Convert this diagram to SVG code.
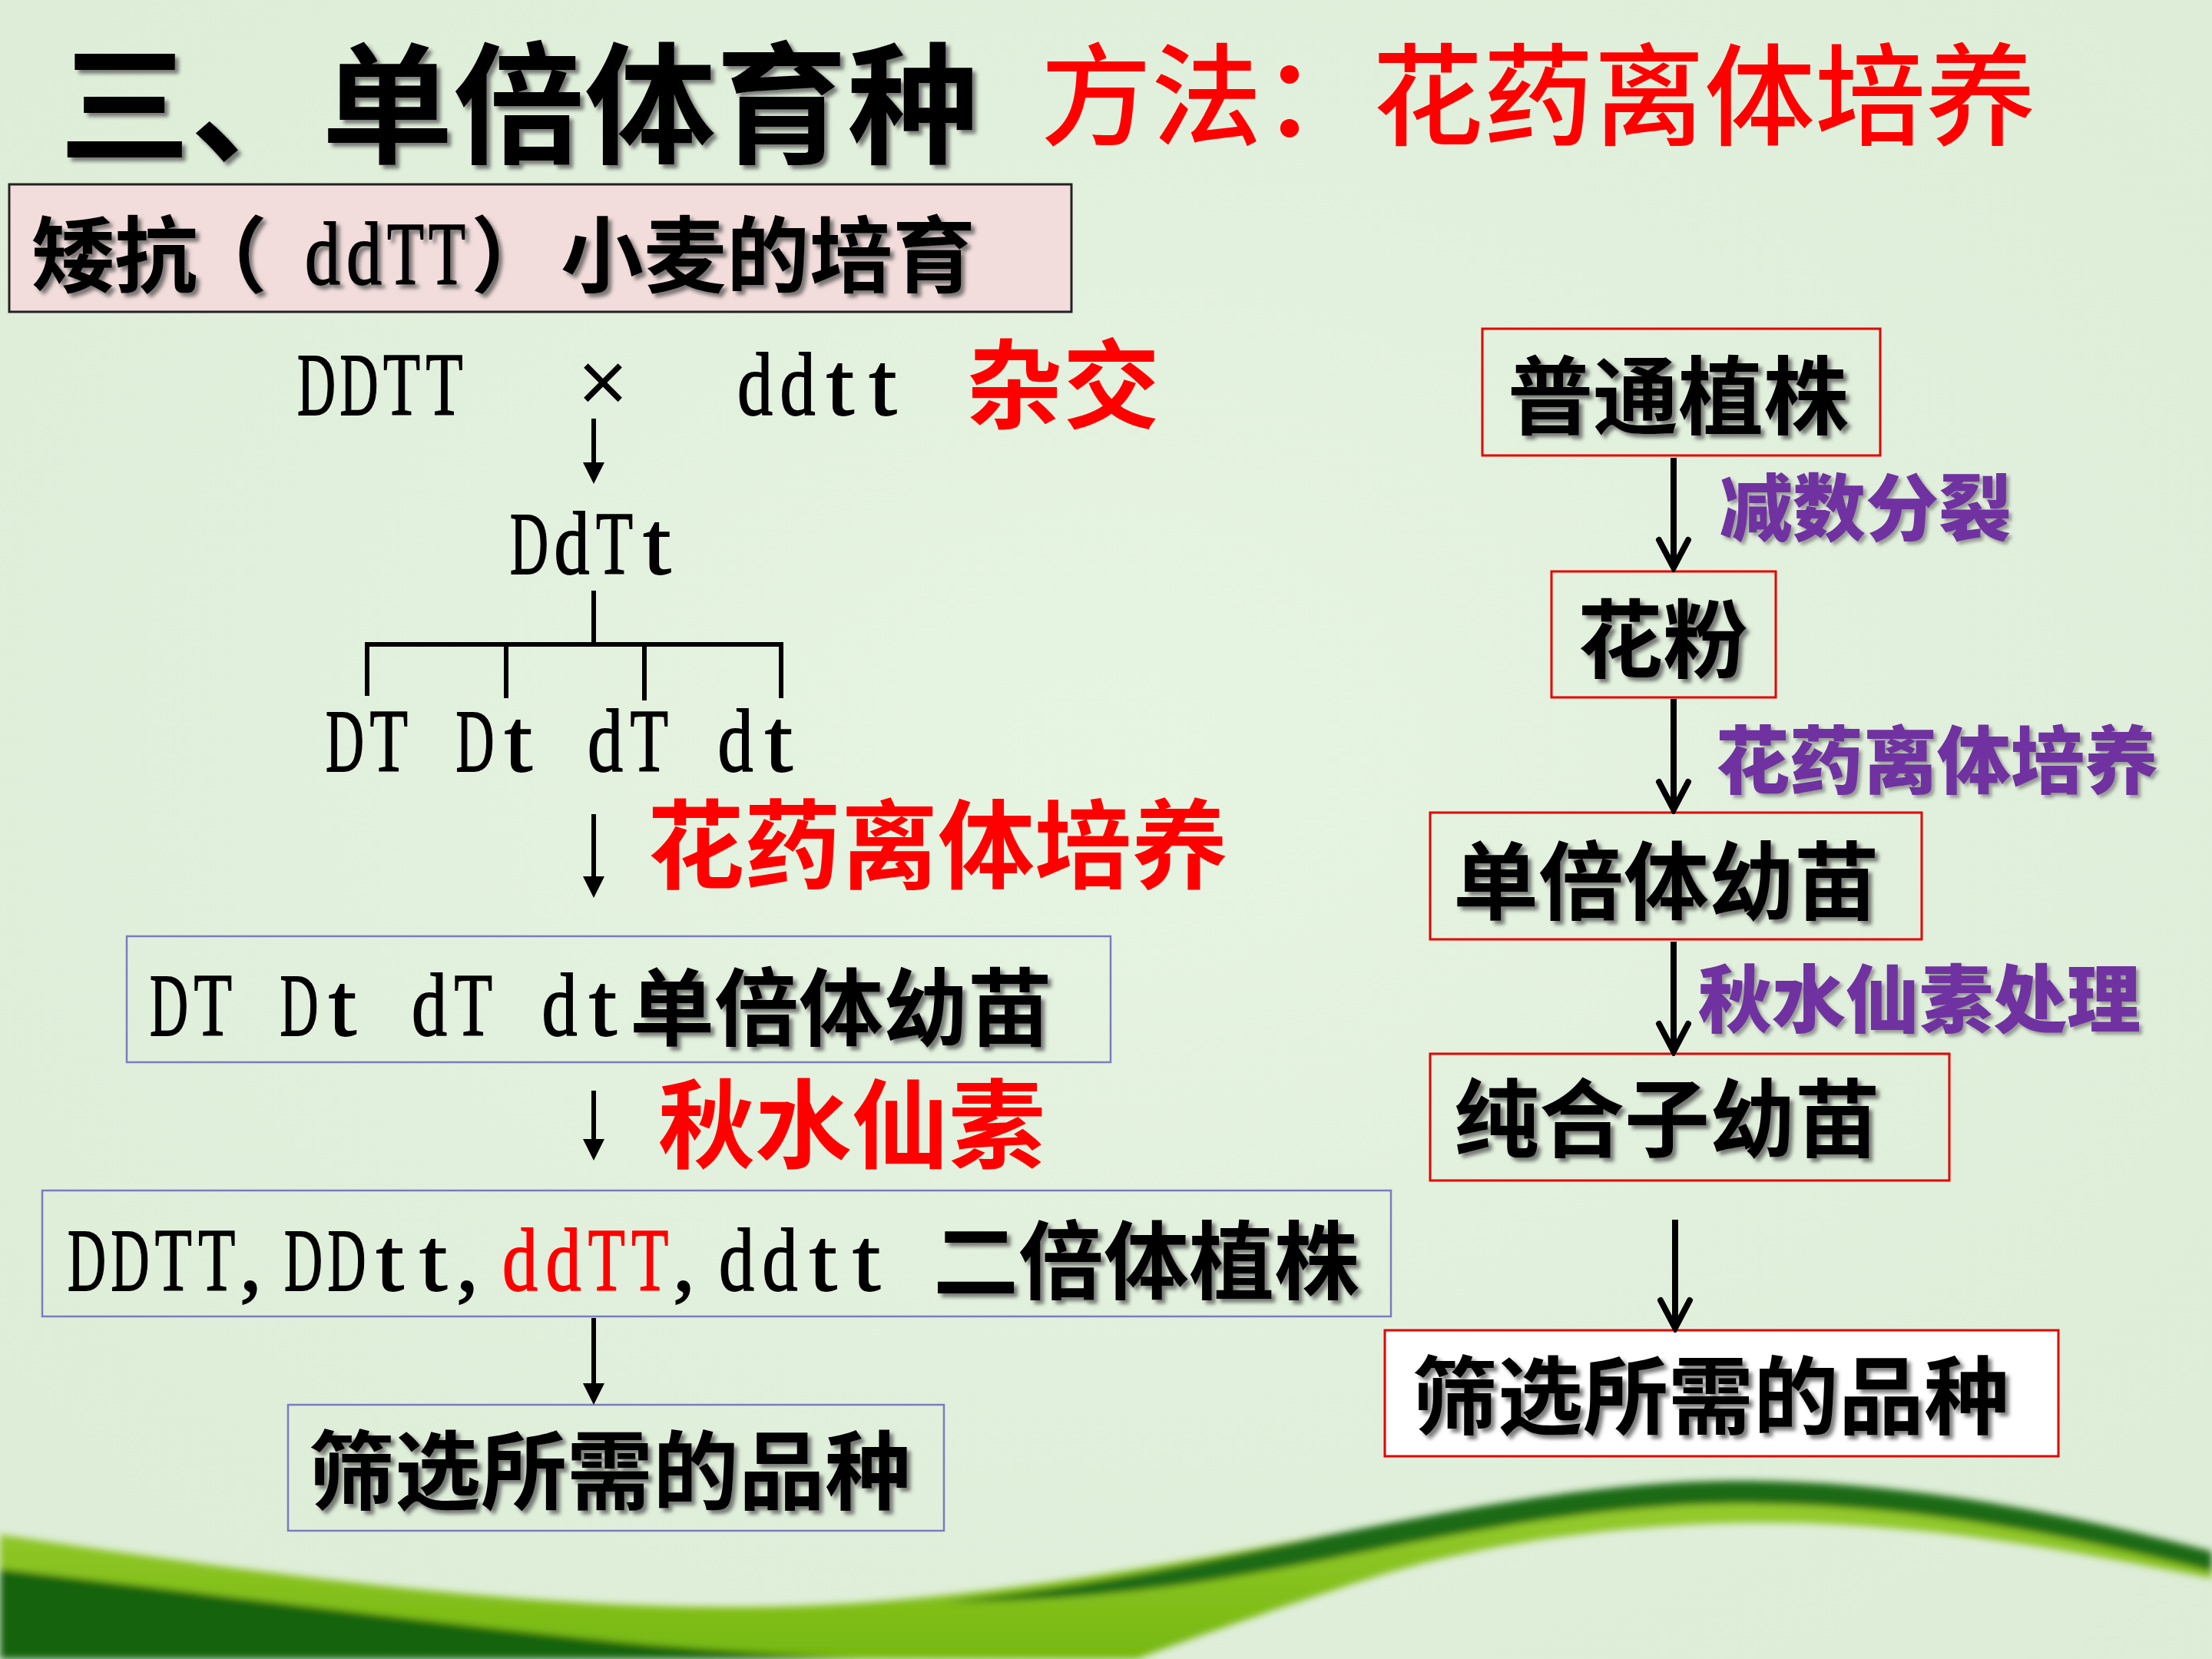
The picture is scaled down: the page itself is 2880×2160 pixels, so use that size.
<svg xmlns="http://www.w3.org/2000/svg" width="2880" height="2160" viewBox="0 0 2880 2160">
<defs>
<style>
.cjk{font-family:"Noto Sans CJK SC","Noto Sans CJK JP",sans-serif;}
.blk{fill:#000;font-weight:700;filter:url(#sh);}
.red{fill:#ff0000;font-weight:700;}
.pur{fill:#7030a0;font-weight:900;filter:url(#sh2);}
.lt{font-family:"Liberation Serif","Times New Roman",serif;font-size:116px;font-weight:400;fill:#000;stroke:#000;stroke-width:1.8;}
.rd{fill:#ff0000;stroke:#ff0000;}
.bx-blue{fill:none;stroke:#7b7bbf;stroke-width:2.5;}
.bx-red{fill:none;stroke:#e60000;stroke-width:3;}
.ln{stroke:#000;stroke-width:6;fill:none;}
.ln2{stroke:#000;stroke-width:8;fill:none;}
</style>
<filter id="sh" x="-5%" y="-20%" width="115%" height="150%">
<feDropShadow dx="5" dy="5" stdDeviation="2.5" flood-color="#555" flood-opacity="0.75"/>
</filter>
<filter id="sh2" x="-5%" y="-20%" width="115%" height="150%">
<feDropShadow dx="4" dy="4" stdDeviation="2" flood-color="#666" flood-opacity="0.6"/>
</filter>
<filter id="blur" x="-5%" y="-20%" width="110%" height="140%">
<feGaussianBlur stdDeviation="5"/>
</filter>
<radialGradient id="bg" cx="50%" cy="45%" r="75%">
<stop offset="0" stop-color="#e6f4e2"/>
<stop offset="1" stop-color="#dcecd6"/>
</radialGradient>
<linearGradient id="lime" x1="0" y1="0" x2="0" y2="1">
<stop offset="0" stop-color="#9acd32"/>
<stop offset="1" stop-color="#76b80f"/>
</linearGradient>
<marker id="tri" viewBox="0 0 28 28" refX="0" refY="14" markerWidth="28" markerHeight="28" markerUnits="userSpaceOnUse" orient="auto">
<path d="M0,0 L28,14 L0,28 Z" fill="#000"/>
</marker>
<marker id="vee" viewBox="-42 -24 48 48" refX="0" refY="0" markerWidth="48" markerHeight="48" markerUnits="userSpaceOnUse" orient="auto">
<path d="M-36,-19 L0,0 L-36,19" fill="none" stroke="#000" stroke-width="8" stroke-linecap="round" stroke-linejoin="miter"/>
</marker>
</defs>

<rect x="0" y="0" width="2880" height="2160" fill="url(#bg)"/>

<g id="swoosh" filter="url(#blur)">
<path d="M0,1998 C350,2050 700,2098 1000,2092 C1250,2088 1500,2040 1750,1995 C1950,1955 2100,1930 2250,1928 C2450,1926 2650,1960 2880,2020 L2880,2055 C2700,2020 2550,1990 2350,1983 C2150,1978 1950,2005 1800,2050 C1680,2088 1560,2130 1480,2160 L0,2160 Z" fill="url(#lime)"/>
<path d="M1230,2086 C1450,2062 1600,2025 1750,1995 C1950,1955 2100,1930 2250,1928 C2450,1926 2650,1960 2880,2020 L2880,2046 C2650,1988 2450,1956 2250,1958 C2100,1960 1950,1986 1750,2026 C1600,2056 1450,2084 1230,2086 Z" fill="#1b6b12"/>
<path d="M0,2043 C300,2078 600,2118 850,2142 C950,2150 1050,2156 1120,2160 L0,2160 Z" fill="#15640f"/>
</g>

<g id="title">
<text class="cjk blk" x="77" y="199" font-size="171" font-weight="900">三、单倍体育种</text>
<text class="cjk" x="1355" y="178" font-size="144" fill="#ff0000" font-weight="500">方法：花药离体培养</text>
</g>

<g id="node-heading">
<rect x="12" y="240" width="1383" height="166" fill="#f2dddc" stroke="#222" stroke-width="3"/>
<text class="cjk blk" y="372" font-size="108"><tspan x="41">矮抗</tspan><tspan x="240">（</tspan><tspan class="lt" y="370" x="397" textLength="46" lengthAdjust="spacingAndGlyphs">d</tspan><tspan class="lt" x="451" textLength="46" lengthAdjust="spacingAndGlyphs">d</tspan><tspan class="lt" x="504" textLength="48" lengthAdjust="spacingAndGlyphs">T</tspan><tspan class="lt" x="558" textLength="48" lengthAdjust="spacingAndGlyphs">T</tspan><tspan x="613" y="372">）</tspan><tspan x="730">小麦的培育</tspan></text>
</g>

<g id="node-cross">
<text class="lt" y="540"><tspan x="387" textLength="50" lengthAdjust="spacingAndGlyphs">D</tspan><tspan x="442.5" textLength="50" lengthAdjust="spacingAndGlyphs">D</tspan><tspan x="499" textLength="48" lengthAdjust="spacingAndGlyphs">T</tspan><tspan x="554.5" textLength="48" lengthAdjust="spacingAndGlyphs">T</tspan></text>
<text class="lt" x="785" y="537" text-anchor="middle" font-size="100" stroke-width="1">×</text>
<text class="lt" y="540"><tspan x="960" textLength="46" lengthAdjust="spacingAndGlyphs">d</tspan><tspan x="1015.5" textLength="46" lengthAdjust="spacingAndGlyphs">d</tspan><tspan x="1076" textLength="36" lengthAdjust="spacingAndGlyphs">t</tspan><tspan x="1131.5" textLength="36" lengthAdjust="spacingAndGlyphs">t</tspan></text>
<text class="cjk red" x="1258" y="548" font-size="126">杂交</text>
</g>

<g id="node-f1">
<text class="lt" y="747"><tspan x="664" textLength="50" lengthAdjust="spacingAndGlyphs">D</tspan><tspan x="721.5" textLength="46" lengthAdjust="spacingAndGlyphs">d</tspan><tspan x="776" textLength="48" lengthAdjust="spacingAndGlyphs">T</tspan><tspan x="837.5" textLength="36" lengthAdjust="spacingAndGlyphs">t</tspan></text>
</g>

<g id="node-gametes">
<text class="lt" y="1004"><tspan x="424" textLength="50" lengthAdjust="spacingAndGlyphs">D</tspan><tspan x="481.5" textLength="48" lengthAdjust="spacingAndGlyphs">T</tspan> <tspan x="593.5" textLength="50" lengthAdjust="spacingAndGlyphs">D</tspan><tspan x="657" textLength="36" lengthAdjust="spacingAndGlyphs">t</tspan> <tspan x="765" textLength="46" lengthAdjust="spacingAndGlyphs">d</tspan><tspan x="820.5" textLength="48" lengthAdjust="spacingAndGlyphs">T</tspan> <tspan x="934.5" textLength="46" lengthAdjust="spacingAndGlyphs">d</tspan><tspan x="996" textLength="36" lengthAdjust="spacingAndGlyphs">t</tspan></text>
</g>

<g id="label-culture-left">
<text class="cjk red" x="843" y="1147" font-size="126">花药离体培养</text>
</g>

<g id="node-haploid-left">
<rect class="bx-blue" x="165" y="1219" width="1281" height="164"/>
<text class="lt" y="1348"><tspan x="195" textLength="50" lengthAdjust="spacingAndGlyphs">D</tspan><tspan x="252.5" textLength="48" lengthAdjust="spacingAndGlyphs">T</tspan> <tspan x="364.5" textLength="50" lengthAdjust="spacingAndGlyphs">D</tspan><tspan x="428" textLength="36" lengthAdjust="spacingAndGlyphs">t</tspan> <tspan x="536" textLength="46" lengthAdjust="spacingAndGlyphs">d</tspan><tspan x="591.5" textLength="48" lengthAdjust="spacingAndGlyphs">T</tspan> <tspan x="705.5" textLength="46" lengthAdjust="spacingAndGlyphs">d</tspan><tspan x="767" textLength="36" lengthAdjust="spacingAndGlyphs">t</tspan></text>
<text class="cjk blk" x="820" y="1353" font-size="110">单倍体幼苗</text>
</g>

<g id="label-colch-left">
<text class="cjk red" x="857" y="1511" font-size="126">秋水仙素</text>
</g>

<g id="node-diploid-left">
<rect class="bx-blue" x="55" y="1550" width="1756" height="164"/>
<text class="lt" y="1680"><tspan x="88" textLength="50" lengthAdjust="spacingAndGlyphs">D</tspan><tspan x="144.4" textLength="50" lengthAdjust="spacingAndGlyphs">D</tspan><tspan x="201.8" textLength="48" lengthAdjust="spacingAndGlyphs">T</tspan><tspan x="258.2" textLength="48" lengthAdjust="spacingAndGlyphs">T</tspan><tspan x="312">,</tspan><tspan x="370" textLength="50" lengthAdjust="spacingAndGlyphs">D</tspan><tspan x="426.4" textLength="50" lengthAdjust="spacingAndGlyphs">D</tspan><tspan x="489.8" textLength="36" lengthAdjust="spacingAndGlyphs">t</tspan><tspan x="546.2" textLength="36" lengthAdjust="spacingAndGlyphs">t</tspan><tspan x="594">,</tspan><tspan class="rd" x="654" textLength="46" lengthAdjust="spacingAndGlyphs">d</tspan><tspan class="rd" x="710.4" textLength="46" lengthAdjust="spacingAndGlyphs">d</tspan><tspan class="rd" x="765.8" textLength="48" lengthAdjust="spacingAndGlyphs">T</tspan><tspan class="rd" x="822.2" textLength="48" lengthAdjust="spacingAndGlyphs">T</tspan><tspan x="876">,</tspan><tspan x="936" textLength="46" lengthAdjust="spacingAndGlyphs">d</tspan><tspan x="992.4" textLength="46" lengthAdjust="spacingAndGlyphs">d</tspan><tspan x="1053.8" textLength="36" lengthAdjust="spacingAndGlyphs">t</tspan><tspan x="1110.2" textLength="36" lengthAdjust="spacingAndGlyphs">t</tspan></text>
<text class="cjk blk" x="1215" y="1683" font-size="111">二倍体植株</text>
</g>

<g id="node-select-left">
<rect class="bx-blue" x="375" y="1829" width="854" height="164"/>
<text class="cjk blk" x="402" y="1957" font-size="112">筛选所需的品种</text>
</g>

<g id="node-plant">
<rect class="bx-red" x="1930" y="428" width="518" height="165"/>
<text class="cjk blk" x="1963" y="557" font-size="111">普通植株</text>
</g>

<g id="label-meiosis">
<text class="cjk pur" x="2239" y="697" font-size="95">减数分裂</text>
</g>

<g id="node-pollen">
<rect class="bx-red" x="2020" y="744" width="292" height="164"/>
<text class="cjk blk" x="2054" y="874" font-size="111">花粉</text>
</g>

<g id="label-culture-right">
<text class="cjk pur" x="2234" y="1025" font-size="96">花药离体培养</text>
</g>

<g id="node-haploid-right">
<rect class="bx-red" x="1862" y="1058" width="640" height="165"/>
<text class="cjk blk" x="1892" y="1189" font-size="111">单倍体幼苗</text>
</g>

<g id="label-colch-right">
<text class="cjk pur" x="2211" y="1336" font-size="96">秋水仙素处理</text>
</g>

<g id="node-homo">
<rect class="bx-red" x="1862" y="1372" width="676" height="165"/>
<text class="cjk blk" x="1893" y="1498" font-size="111">纯合子幼苗</text>
</g>

<g id="node-select-right">
<rect x="1803" y="1732" width="877" height="164" fill="#ffffff" stroke="#e60000" stroke-width="3"/>
<text class="cjk blk" x="1839" y="1859" font-size="111">筛选所需的品种</text>
</g>

<g id="connectors">
<line class="ln" x1="773" y1="545" x2="773" y2="602" marker-end="url(#tri)"/>
<line class="ln" x1="773" y1="769" x2="773" y2="839"/>
<line class="ln" x1="475" y1="839" x2="1020" y2="839"/>
<line class="ln" x1="478" y1="839" x2="478" y2="906"/>
<line class="ln" x1="659" y1="839" x2="659" y2="909"/>
<line class="ln" x1="839" y1="839" x2="839" y2="912"/>
<line class="ln" x1="1017" y1="839" x2="1017" y2="909"/>
<line class="ln" x1="773" y1="1060" x2="773" y2="1141" marker-end="url(#tri)"/>
<line class="ln" x1="773" y1="1420" x2="773" y2="1483" marker-end="url(#tri)"/>
<line class="ln" x1="773" y1="1716" x2="773" y2="1801" marker-end="url(#tri)"/>
<line class="ln2" x1="2179" y1="596" x2="2179" y2="739" marker-end="url(#vee)"/>
<line class="ln2" x1="2179" y1="910" x2="2179" y2="1054" marker-end="url(#vee)"/>
<line class="ln2" x1="2179" y1="1226" x2="2179" y2="1369" marker-end="url(#vee)"/>
<line class="ln2" x1="2181" y1="1588" x2="2181" y2="1729" marker-end="url(#vee)"/>
</g>
</svg>
